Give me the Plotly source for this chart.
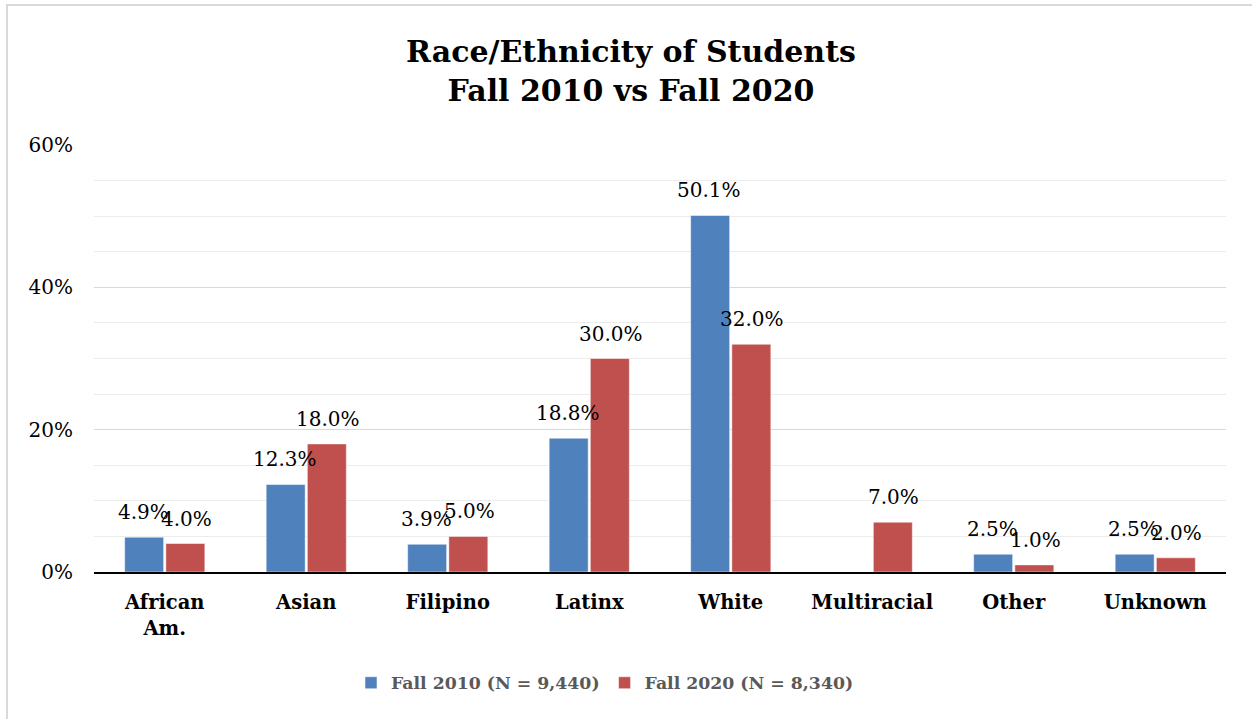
import plotly.graph_objects as go

categories = ["African<br>Am.", "Asian", "Filipino", "Latinx", "White", "Multiracial", "Other", "Unknown"]
fall_2010 = [4.9, 12.3, 3.9, 18.8, 50.1, None, 2.5, 2.5]
fall_2020 = [4.0, 18.0, 5.0, 30.0, 32.0, 7.0, 1.0, 2.0]
series_names = ["Fall 2010 (N = 9,440)", "Fall 2020 (N = 8,340)"]
y_ticks = [0, 20, 40, 60]
y_tick_labels = ["0%", "20%", "40%", "60%"]

FONT = "DejaVu Serif"
W, H = 1252, 719
L, R, T, B = 94, 26, 145, 147
pw, ph = W - L - R, H - T - B

fig = go.Figure()
fig.add_trace(go.Bar(x=categories, y=fall_2010, name=f"<b>{series_names[0]}</b>",
                     marker=dict(color="#4F81BD", line=dict(color="rgba(255,255,255,0.5)", width=1))))
fig.add_trace(go.Bar(x=categories, y=fall_2020, name=f"<b>{series_names[1]}</b>",
                     marker=dict(color="#C0504D", line=dict(color="rgba(255,255,255,0.5)", width=1))))

ann = []
for vals, shift in ((fall_2010, -21.5), (fall_2020, 21.5)):
    for c, v in zip(categories, vals):
        if v is None:
            continue
        ann.append(dict(x=c, y=v, xref="x", yref="y", text=f"{v:.1f}%", showarrow=False,
                        xshift=shift, yshift=25, yanchor="middle", xanchor="center",
                        font=dict(family=FONT, size=20, color="#000000")))

def px(x):
    return (x - L) / pw

def py(y):
    return (H - B - y) / ph

shapes = [
    dict(type="line", xref="paper", yref="paper", x0=px(7), x1=px(7), y0=py(5), y1=py(725),
         line=dict(color="#d9d9d9", width=2)),
    dict(type="line", xref="paper", yref="paper", x0=px(6), x1=px(1260), y0=py(5), y1=py(5),
         line=dict(color="#d9d9d9", width=2)),
]

fig.update_layout(
    width=W, height=H,
    margin=dict(l=L, r=R, t=T, b=B),
    paper_bgcolor="white", plot_bgcolor="white",
    barmode="group", bargap=0.418, bargroupgap=0.053,
    title=dict(text="<b>Race/Ethnicity of Students<br>Fall 2010 vs Fall 2020</b>",
               x=631 / W, xanchor="center", y=1 - 62 / H, yanchor="middle", yref="container",
               font=dict(family=FONT, size=30, color="#000000")),
    xaxis=dict(showline=True, linecolor="#000000", linewidth=2, ticks="",
               tickfont=dict(family=FONT, size=19.5, color="#000000"),
               tickprefix="<b>", ticksuffix="</b>", ticklabelstandoff=12),
    yaxis=dict(range=[0, 60], tickvals=y_ticks, ticktext=y_tick_labels, showline=False, zeroline=False,
               gridcolor="#d9d9d9", gridwidth=1,
               minor=dict(dtick=5, showgrid=True, gridcolor="#ececec", gridwidth=1),
               tickfont=dict(family=FONT, size=20, color="#000000"), ticklabelstandoff=20),
    legend=dict(orientation="h", x=px(605), xanchor="center", y=py(683), yanchor="middle",
                font=dict(family=FONT, size=17.3, color="#595959"), itemwidth=30,
                traceorder="normal"),
    annotations=ann,
    shapes=shapes,
)

fig.write_html("out.html", config={"displayModeBar": False},
               post_script="document.body.style.margin='0';")
